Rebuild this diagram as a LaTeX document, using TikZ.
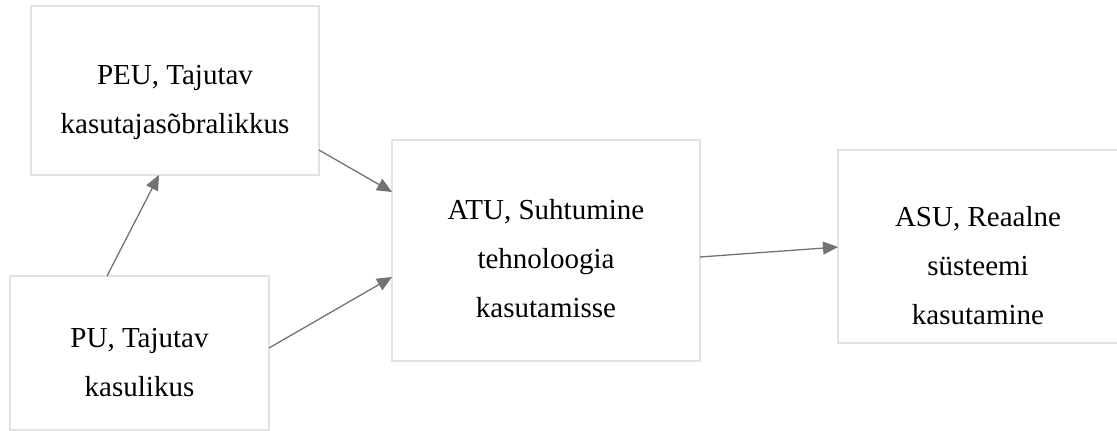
\documentclass[tikz,border=0pt]{standalone}
\usepackage{fontspec}
\setmainfont{Liberation Serif}
\usetikzlibrary{arrows.meta}
\definecolor{boxgray}{RGB}{226,226,226}
\definecolor{arrowgray}{RGB}{118,113,113}
\begin{document}
\begin{tikzpicture}[x=1pt,y=-1pt,
  box/.style={draw=boxgray, line width=1.8pt, fill=white, inner sep=0pt, outer sep=0pt},
  lbl/.style={align=center, inner sep=0pt, font=\fontsize{29}{49}\selectfont},
  conn/.style={draw=arrowgray, line width=1.3pt, -{Triangle[length=15pt,width=13pt]}}]
\useasboundingbox (0,0) rectangle (1117,431);
\clip (0,0) rectangle (1117,431);
% boxes
\node[box, minimum width=288, minimum height=169] (peu) at (175,90.5) {};
\node[box, minimum width=259, minimum height=154] (pu) at (139.5,353) {};
\node[box, minimum width=308, minimum height=221] (atu) at (546,250.5) {};
\node[box, minimum width=300, minimum height=193] (asu) at (988,246.5) {};
% texts
\node[lbl] (peut) at (175,102.5) {PEU, Tajutav\\kasutajasõbralikkus};
\node[lbl] (put) at (139.5,363) {PU, Tajutav\\kasulikus};
\node[lbl] (atut) at (546,258.5) {ATU, Suhtumine\\tehnoloogia\\kasutamisse};
\node[lbl] (asut) at (978,266) {ASU, Reaalne\\süsteemi\\kasutamine};
% connectors
\draw[conn] (pu.north -| 107,0) -- (peu.south -| 159,0);
\draw[conn] (peu.east |- 0,150) -- (atu.west |- 0,192);
\draw[conn] (pu.east |- 0,348) -- (atu.west |- 0,277);
\draw[conn] (atu.east |- 0,257) -- (asu.west |- 0,247);
\end{tikzpicture}
\end{document}
